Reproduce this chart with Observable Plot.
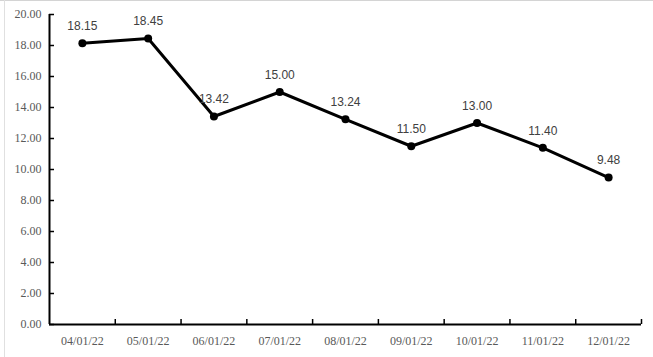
<!DOCTYPE html>
<html>
<head>
<meta charset="utf-8">
<script src="https://cdn.jsdelivr.net/npm/d3@7"></script>
<script src="https://cdn.jsdelivr.net/npm/@observablehq/plot@0.6"></script>
<style>
  html, body { margin: 0; padding: 0; background: #fff; }
  #chart { width: 653px; height: 357px; position: relative; }
  #chart svg { position: absolute; left: 0; top: 0; }
  .sheet-top { position: absolute; left: 0; top: 0; width: 653px; height: 0; border-top: 1px solid #d4d4d4; z-index: 1; }
  .sheet-left { position: absolute; left: 4px; top: 0; width: 0; height: 357px; border-left: 1px solid #e0e0e0; z-index: 1; }
</style>
</head>
<body>
<div id="chart"><div class="sheet-top"></div><div class="sheet-left"></div></div>
<script>
const months = ["04/01/22","05/01/22","06/01/22","07/01/22","08/01/22","09/01/22","10/01/22","11/01/22","12/01/22"];
const values = [18.15, 18.45, 13.42, 15.00, 13.24, 11.50, 13.00, 11.40, 9.48];
const yTicks = [0,2,4,6,8,10,12,14,16,18,20];

const data = months.map((m, i) => ({month: m, value: values[i]}));

const W = 653, H = 357, mL = 49, mR = 12, mT = 14, mB = 33;
const bw = (W - mL - mR) / months.length;
const axisColor = "#595959";

const chart = Plot.plot({
  width: W, height: H,
  marginLeft: mL, marginRight: mR, marginTop: mT, marginBottom: mB,
  style: {background: "transparent", overflow: "visible"},
  x: {type: "band", domain: months, padding: 0, align: 0.5, round: false, label: null},
  y: {domain: [0, 20], label: null},
  marks: [
    Plot.axisY(yTicks, {
      tickSize: -5, tickPadding: 13, stroke: "#000", strokeWidth: 1.5, label: null,
      tickFormat: d => d.toFixed(2),
      fill: axisColor, fontSize: 12, fontFamily: "Liberation Serif"
    }),
    Plot.axisX({
      tickSize: 0, tickPadding: 12, fill: axisColor, fontSize: 12, fontFamily: "Liberation Serif", label: null
    }),
    Plot.ruleY([0], {stroke: "#000", strokeWidth: 2}),
    Plot.ruleX([months[0]], {dx: -bw / 2, stroke: "#000", strokeWidth: 2}),
    Plot.tickX(months, {x: d => d, dx: bw / 2, insetTop: H - mT - mB - 5, stroke: "#000", strokeWidth: 1.5}),
    Plot.line(data, {x: "month", y: "value", stroke: "#000", strokeWidth: 3}),
    Plot.dot(data, {x: "month", y: "value", r: 4, fill: "#000"}),
    Plot.text(data, {x: "month", y: "value", text: d => d.value.toFixed(2), dy: -17,
      fill: "#404040", fontSize: 12, fontFamily: "Liberation Sans"})
  ]
});
document.getElementById("chart").appendChild(chart);
</script>
</body>
</html>
